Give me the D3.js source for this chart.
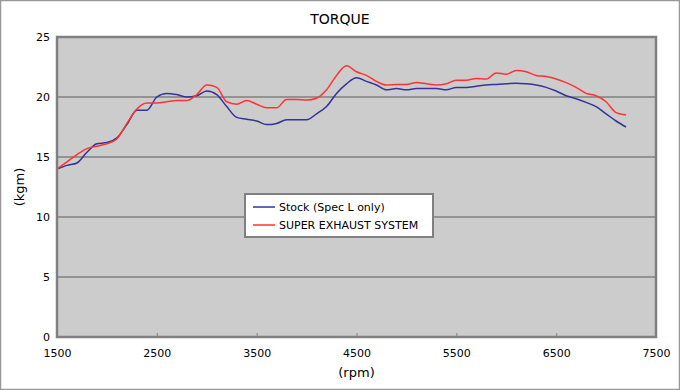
<!DOCTYPE html>
<html>
<head>
<meta charset="utf-8">
<script src="https://cdn.jsdelivr.net/npm/d3@7"></script>
<style>
  body { margin: 0; background: #fff; }
  svg { display: block; font-family: "DejaVu Sans", Verdana, sans-serif; }
</style>
</head>
<body>
<script>
var rpm = d3.range(1500, 7201, 100);

var stockTorque = [14.0, 14.3, 14.5, 15.4, 16.1, 16.2, 16.6, 17.7, 18.9, 18.9,
	20.0, 20.3, 20.2, 20.0, 20.1, 20.5, 20.2, 19.2, 18.3, 18.15,
	18.0, 17.7, 17.8, 18.1, 18.1, 18.1, 18.6, 19.2, 20.3, 21.1,
	21.6, 21.3, 21.0, 20.6, 20.7, 20.6, 20.7, 20.7, 20.7, 20.6,
	20.8, 20.8, 20.9, 21.0, 21.05, 21.1, 21.15, 21.1, 21.0, 20.8,
	20.5, 20.1, 19.85, 19.55, 19.2, 18.6, 18.0, 17.5];

var exhaustTorque = [14.0, 14.6, 15.2, 15.7, 15.9, 16.1, 16.5, 17.8, 19.0, 19.5,
	19.5, 19.6, 19.7, 19.7, 20.2, 21.0, 20.8, 19.6, 19.4, 19.7,
	19.4, 19.1, 19.1, 19.8, 19.8, 19.75, 19.9, 20.6, 21.8, 22.6,
	22.1, 21.8, 21.3, 21.0, 21.05, 21.05, 21.2, 21.1, 21.0, 21.1,
	21.4, 21.4, 21.55, 21.5, 22.0, 21.9, 22.2, 22.1, 21.8, 21.7,
	21.5, 21.2, 20.8, 20.3, 20.1, 19.6, 18.7, 18.5];

var seriesNames = ['Stock (Spec L only)', 'SUPER EXHAUST SYSTEM'];
var seriesColors = ['#333399', '#ff3333'];
var xTicks = [1500, 2500, 3500, 4500, 5500, 6500, 7500];
var yTicks = [0, 5, 10, 15, 20, 25];

var W = 680, H = 390;
var plot = {left: 57, right: 656, top: 37, bottom: 337};

var svg = d3.select('body').append('svg')
	.attr('width', W)
	.attr('height', H);

// outer frame
svg.append('rect')
	.attr('x', 0.5).attr('y', 0.5)
	.attr('width', W - 1).attr('height', H - 1)
	.attr('fill', '#fff')
	.attr('stroke', '#999')
	.attr('stroke-width', 1.5);

var x = d3.scaleLinear().domain([1500, 7500]).range([plot.left, plot.right]);
var y = d3.scaleLinear().domain([0, 25]).range([plot.bottom, plot.top]);

// plot background
svg.append('rect')
	.attr('x', plot.left).attr('y', plot.top)
	.attr('width', plot.right - plot.left)
	.attr('height', plot.bottom - plot.top)
	.attr('fill', '#cccccc');

// gridlines
svg.append('g')
	.selectAll('line')
	.data(yTicks.filter(function(d){ return d > 0 && d < 25; }))
	.enter().append('line')
	.attr('x1', plot.left).attr('x2', plot.right)
	.attr('y1', function(d){ return y(d); })
	.attr('y2', function(d){ return y(d); })
	.attr('stroke', '#808080')
	.attr('stroke-width', 1.5);

// lines
var line = d3.line()
	.x(function(d){ return x(d[0]); })
	.y(function(d){ return y(d[1]); })
	.curve(d3.curveMonotoneX);

[stockTorque, exhaustTorque].forEach(function(vals, i){
	svg.append('path')
		.datum(rpm.map(function(r, j){ return [r, vals[j]]; }))
		.attr('d', line)
		.attr('fill', 'none')
		.attr('stroke', seriesColors[i])
		.attr('stroke-width', 1.5);
});

// plot border
svg.append('rect')
	.attr('x', plot.left).attr('y', plot.top)
	.attr('width', plot.right - plot.left)
	.attr('height', plot.bottom - plot.top)
	.attr('fill', 'none')
	.attr('stroke', '#808080')
	.attr('stroke-width', 2.5);

// x axis
var xAxis = svg.append('g')
	.attr('transform', 'translate(0,' + plot.bottom + ')')
	.call(d3.axisBottom(x).tickValues(xTicks).tickSize(-4).tickPadding(12)
		.tickFormat(d3.format('d')));
xAxis.select('.domain').remove();
xAxis.selectAll('line').attr('stroke', '#808080');
xAxis.selectAll('text').attr('font-size', 11).attr('fill', '#000')
	.attr('font-family', '"DejaVu Sans", Verdana, sans-serif');

// y axis
var yAxis = svg.append('g')
	.attr('transform', 'translate(' + plot.left + ',0)')
	.call(d3.axisLeft(y).tickValues(yTicks).tickSize(0).tickPadding(7));
yAxis.select('.domain').remove();
yAxis.selectAll('text').attr('font-size', 11).attr('fill', '#000')
	.attr('font-family', '"DejaVu Sans", Verdana, sans-serif');

// titles
svg.append('text')
	.attr('x', 340).attr('y', 24)
	.attr('text-anchor', 'middle')
	.attr('font-size', 14)
	.text('TORQUE');

svg.append('text')
	.attr('x', (plot.left + plot.right) / 2).attr('y', 377)
	.attr('text-anchor', 'middle')
	.attr('font-size', 13)
	.text('(rpm)');

svg.append('text')
	.attr('transform', 'translate(24,' + (plot.top + plot.bottom) / 2 + ') rotate(-90)')
	.attr('text-anchor', 'middle')
	.attr('font-size', 13)
	.text('(kgm)');

// legend
var legend = svg.append('g').attr('transform', 'translate(245,194)');
legend.append('rect')
	.attr('width', 188).attr('height', 43)
	.attr('fill', '#fff')
	.attr('stroke', '#808080')
	.attr('stroke-width', 2);

seriesNames.forEach(function(name, i){
	var row = legend.append('g').attr('transform', 'translate(0,' + (13 + i * 18) + ')');
	row.append('line')
		.attr('x1', 8).attr('x2', 30)
		.attr('stroke', seriesColors[i])
		.attr('stroke-width', 1.5);
	row.append('text')
		.attr('x', 34).attr('y', 4)
		.attr('font-size', 11)
		.text(name);
});
</script>
</body>
</html>
